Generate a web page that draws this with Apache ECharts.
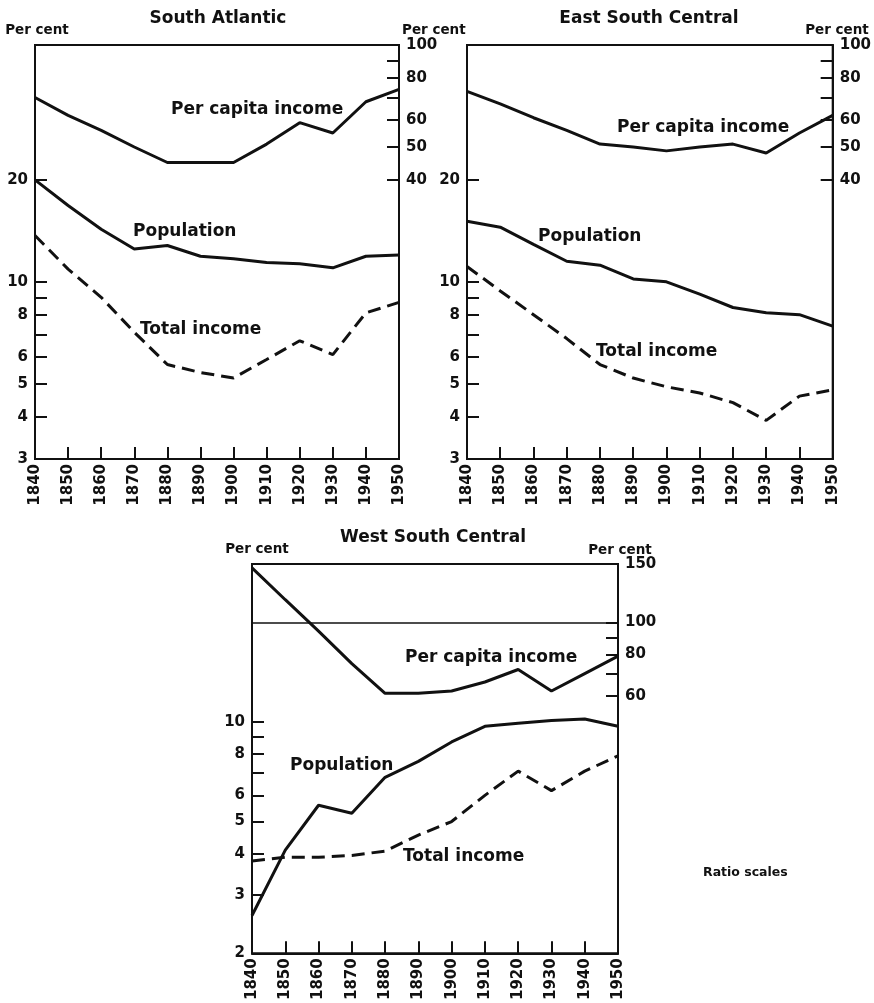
<!DOCTYPE html>
<html>
<head>
<meta charset="utf-8">
<script src="https://cdn.jsdelivr.net/npm/echarts@6/dist/echarts.min.js"></script>
<style>
  html, body { margin: 0; background: #fff; }
  #chart { width: 874px; height: 1003px; }
</style>
</head>
<body>
<div id="chart"></div>
<script>
// 年份（三个面板共用）
const years = [1840, 1850, 1860, 1870, 1880, 1890, 1900, 1910, 1920, 1930, 1940, 1950]

// South Atlantic
const saPerCapita = [70, 62, 56, 50, 45, 45, 45, 51, 59, 55, 68, 74]
const saPopulation = [20, 16.8, 14.3, 12.5, 12.8, 11.9, 11.7, 11.4, 11.3, 11.0, 11.9, 12.0]
const saTotal = [13.7, 10.9, 9.0, 7.1, 5.7, 5.4, 5.2, 5.9, 6.7, 6.1, 8.1, 8.7]

// East South Central
const escPerCapita = [73, 67, 61, 56, 51, 50, 48.7, 50, 51, 48, 55, 62]
const escPopulation = [15.1, 14.5, 12.9, 11.5, 11.2, 10.2, 10.0, 9.2, 8.4, 8.1, 8.0, 7.4]
const escTotal = [11.1, 9.4, 8.0, 6.8, 5.7, 5.2, 4.9, 4.7, 4.4, 3.9, 4.6, 4.8]

// West South Central
const wscPerCapita = [146, 117, 94, 75, 61, 61, 62, 66, 72, 62, 70, 79]
const wscPopulation = [2.6, 4.1, 5.6, 5.3, 6.8, 7.6, 8.7, 9.7, 9.9, 10.1, 10.2, 9.7]
const wscTotal = [3.8, 3.9, 3.9, 3.95, 4.07, 4.55, 5.0, 6.0, 7.1, 6.2, 7.1, 7.9]

// 坐标轴刻度
const leftTicksTop = [4, 5, 6, 7, 8, 9, 10, 20]
const leftLabelsTop = [3, 4, 5, 6, 8, 10, 20]
const rightTicksTop = [40, 50, 60, 70, 80, 90]
const rightLabelsTop = [40, 50, 60, 80, 100]
const leftTicksWsc = [3, 4, 5, 6, 7, 8, 9, 10]
const leftLabelsWsc = [2, 3, 4, 5, 6, 8, 10]
const rightTicksWsc = [60, 70, 80, 90, 100]
const rightLabelsWsc = [60, 80, 100, 150]

const FONT = 'DejaVu Sans'
const INK = '#111'

const pairs = arr => years.map((y, i) => [y, arr[i]])

const xAxisFor = gridIndex => ({
  type: 'value',
  gridIndex,
  min: 1840,
  max: 1950,
  interval: 10,
  axisLine: { show: true, lineStyle: { color: INK, width: 2 } },
  axisTick: { show: true, inside: true, length: 12, lineStyle: { color: INK, width: 2 } },
  axisLabel: {
    rotate: 90, margin: 5, color: INK,
    fontFamily: FONT, fontWeight: 'bold', fontSize: 15,
    formatter: v => String(v)
  },
  splitLine: { show: false }
})

const yAxisFor = (gridIndex, position, min, max, ticks, labels) => ({
  type: 'log',
  logBase: 10,
  gridIndex,
  position,
  min,
  max,
  axisLine: { show: true, onZero: false, lineStyle: { color: INK, width: 2 } },
  axisTick: { show: true, inside: true, length: 12, customValues: ticks, lineStyle: { color: INK, width: 2 } },
  axisLabel: {
    show: true, margin: 7, color: INK, customValues: labels,
    fontFamily: FONT, fontWeight: 'bold', fontSize: 15,
    formatter: v => String(Math.round(v))
  },
  splitLine: { show: false }
})

const lineSeries = (name, xi, yi, arr, dashed) => ({
  name,
  type: 'line',
  xAxisIndex: xi,
  yAxisIndex: yi,
  data: pairs(arr),
  symbol: 'none',
  silent: true,
  lineStyle: { color: INK, width: 3, type: dashed ? [13, 7] : 'solid' }
})

const text = (x, y, str, size, align) => ({
  type: 'text',
  x, y,
  style: {
    text: str, fill: INK, font: `bold ${size}px "${FONT}"`,
    textAlign: align || 'left', textVerticalAlign: 'middle'
  }
})

const chart = echarts.init(document.getElementById('chart'))

chart.setOption({
  backgroundColor: '#fff',
  animation: false,
  grid: [
    { left: 35, right: 475, top: 45, bottom: 544, show: true, borderColor: INK, borderWidth: 2 },
    { left: 467, right: 39, top: 45, bottom: 544, show: true, borderColor: INK, borderWidth: 2 },
    { left: 252, right: 256, top: 564, bottom: 47, show: true, borderColor: INK, borderWidth: 2 }
  ],
  xAxis: [xAxisFor(0), xAxisFor(1), xAxisFor(2)],
  yAxis: [
    yAxisFor(0, 'left', 3, 50, leftTicksTop, leftLabelsTop),
    yAxisFor(0, 'right', 6, 100, rightTicksTop, rightLabelsTop),
    yAxisFor(1, 'left', 3, 50, leftTicksTop, leftLabelsTop),
    yAxisFor(1, 'right', 6, 100, rightTicksTop, rightLabelsTop),
    yAxisFor(2, 'left', 2, 30, leftTicksWsc, leftLabelsWsc),
    yAxisFor(2, 'right', 10, 150, rightTicksWsc, rightLabelsWsc)
  ],
  series: [
    lineSeries('SA per capita', 0, 1, saPerCapita),
    lineSeries('SA population', 0, 0, saPopulation),
    lineSeries('SA total', 0, 0, saTotal, true),
    lineSeries('ESC per capita', 1, 3, escPerCapita),
    lineSeries('ESC population', 1, 2, escPopulation),
    lineSeries('ESC total', 1, 2, escTotal, true),
    {
      ...lineSeries('WSC per capita', 2, 5, wscPerCapita),
      // 100% 参考线
      markLine: {
        silent: true,
        symbol: 'none',
        label: { show: false },
        lineStyle: { color: INK, width: 1.5, type: 'solid' },
        data: [{ yAxis: 100 }]
      }
    },
    lineSeries('WSC population', 2, 4, wscPopulation),
    lineSeries('WSC total', 2, 4, wscTotal, true)
  ],
  graphic: [
    text(218, 19, 'South Atlantic', 17, 'center'),
    text(649, 19, 'East South Central', 17, 'center'),
    text(433, 538, 'West South Central', 17, 'center'),
    text(37, 30, 'Per cent', 13.5, 'center'),
    text(402, 30, 'Per cent', 13.5, 'left'),
    text(837, 30, 'Per cent', 13.5, 'center'),
    text(257, 549, 'Per cent', 13.5, 'center'),
    text(620, 550, 'Per cent', 13.5, 'center'),
    text(171, 110, 'Per capita income', 17),
    text(133, 232, 'Population', 17),
    text(140, 330, 'Total income', 17),
    text(617, 128, 'Per capita income', 17),
    text(538, 237, 'Population', 17),
    text(596, 352, 'Total income', 17),
    text(405, 658, 'Per capita income', 17),
    text(290, 766, 'Population', 17),
    text(403, 857, 'Total income', 17),
    text(703, 873, 'Ratio scales', 12.5)
  ]
})
</script>
</body>
</html>
